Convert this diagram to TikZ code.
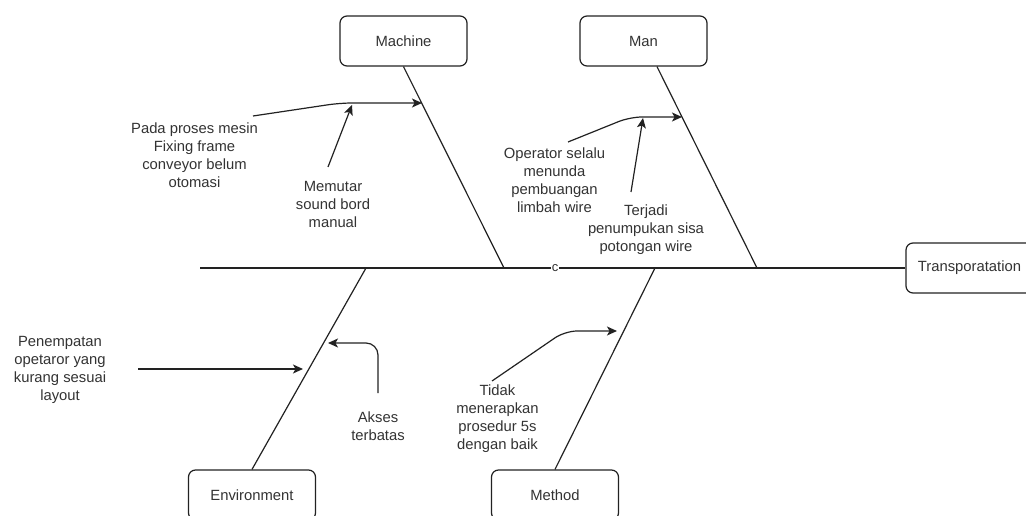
\documentclass[tikz,border=0pt]{standalone}
\usepackage{fontspec}
\setmainfont{Liberation Sans}
\usetikzlibrary{arrows.meta,calc}
\definecolor{ink}{HTML}{222222}
\definecolor{txt}{HTML}{333333}
\newcommand\diagfont{\fontsize{14.8}{18}\selectfont}
\begin{document}
\begin{tikzpicture}[x=1pt,y=-1pt,
  bone/.style={draw=ink,line width=1.2pt},
  arr/.style={bone,-{Stealth[length=10pt,width=9pt,inset=2.5pt]},rounded corners=12pt},
  cat/.style={draw=ink,line width=1.2pt,rounded corners=7pt,minimum width=127pt,
              minimum height=50pt,inner sep=0pt,text=txt,font=\diagfont},
  note/.style={align=center,text=txt,font=\diagfont,inner sep=1pt},
]
\useasboundingbox (0,0) rectangle (1026,516);
\fill[white] (0,0) rectangle (1026,516);
\clip (0,0) rectangle (1026,516);

% category boxes
\node[cat] (machine) at (403.5,41) {Machine};
\node[cat] (man)     at (643.5,41) {Man};
\node[cat] (trans)   at (969.5,268) {Transporatation};
\node[cat] (env)     at (252,495) {Environment};
\node[cat] (method)  at (555,495) {Method};

% spine and bones
\coordinate (tail) at (200,268);
\coordinate (mJ) at (504,268);
\coordinate (nJ) at (757,268);
\coordinate (eJ) at (366,268);
\coordinate (dJ) at (655,268);
\draw[bone] (tail) -- (trans.west);
\draw[bone] (machine.south) -- (mJ);
\draw[bone] ([xshift=13.5pt]man.south) -- (nJ);
\draw[bone] (env.north) -- (eJ);
\draw[bone] (method.north) -- (dJ);
\node[text=txt,fill=white,inner sep=0.5pt,font=\fontsize{13}{13}\selectfont] (cmark) at (555,268.5) {c};

% cause texts
\node[note] (pada)       at (194.5,155) {Pada proses mesin\\Fixing frame\\conveyor belum\\otomasi};
\node[note] (memutar)    at (333,204.5) {Memutar\\sound bord\\manual};
\node[note] (operator)   at (554.5,180) {Operator selalu\\menunda\\pembuangan\\limbah wire};
\node[note] (terjadi)    at (646,230)   {Terjadi\\penumpukan sisa\\potongan wire};
\node[note] (penempatan) at (60,370)    {Penempatan\\opetaror yang\\kurang sesuai\\layout};
\node[note] (akses)      at (378,426.5) {Akses\\terbatas};
\node[note] (tidak)      at (497.5,419) {Tidak\\menerapkan\\prosedur 5s\\dengan baik};

% arrow end points
\coordinate (padaOut)  at (253,116);
\coordinate (mArr)     at (422,103);
\coordinate (memOut)   at (328,167);
\coordinate (memArr)   at (352,105);
\coordinate (opOut)    at (568,142);
\coordinate (nArr)     at (682,117);
\coordinate (terOut)   at (631,192);
\coordinate (terArr)   at (643,118);
\coordinate (penOut)   at (138,369);
\coordinate (eArr)     at (303,369);
\coordinate (akOut)    at (378,393);
\coordinate (akArr)    at (328,343);
\coordinate (tdOut)    at (492,381);
\coordinate (dArr)     at (617,331);

% cause arrows
\draw[arr] (padaOut) -- (340,103) -- (mArr);
\draw[arr] (memOut) -- (memArr);
\draw[arr] (opOut) -- (630,117) -- (nArr);
\draw[arr] (terOut) -- (terArr);
\draw[arr] (penOut) -- (eArr);
\draw[arr] (akOut) -- (378,343) -- (akArr);
\draw[arr] (tdOut) -- (565,331) -- (dArr);
\end{tikzpicture}
\end{document}
